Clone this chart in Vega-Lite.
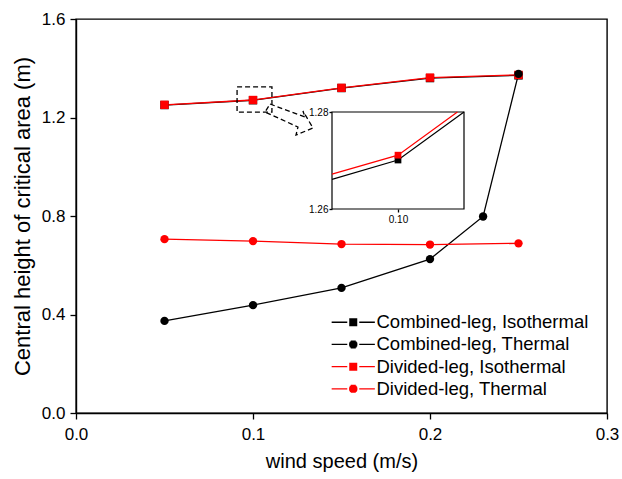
{
  "$schema": "https://vega.github.io/schema/vega-lite/v6.json",
  "width": 531,
  "height": 394,
  "autosize": "none",
  "padding": {"left": 76, "top": 19, "right": 15, "bottom": 66},
  "background": "white",
  "config": {
    "view": {"stroke": "black", "strokeWidth": 1.4},
    "font": "Liberation Sans",
    "axis": {
      "grid": false,
      "domain": true,
      "domainColor": "black",
      "domainWidth": 1.4,
      "ticks": true,
      "tickOpacity": 1,
      "labelFlush": false,
      "labelFont": "Liberation Sans",
      "titleFont": "Liberation Sans",
      "labelColor": "black",
      "titleColor": "black",
      "tickColor": "black",
      "titleFontWeight": "normal",
      "tickWidth": 1.3,
      "zindex": 1
    }
  },
  "datasets": {
    "main": [
      {"series": "Combined-leg, Isothermal", "speed": 0.05, "height": 1.2505},
      {"series": "Combined-leg, Isothermal", "speed": 0.10, "height": 1.2701},
      {"series": "Combined-leg, Isothermal", "speed": 0.15, "height": 1.3196},
      {"series": "Combined-leg, Isothermal", "speed": 0.20, "height": 1.360},
      {"series": "Combined-leg, Isothermal", "speed": 0.25, "height": 1.371},
      {"series": "Combined-leg, Thermal", "speed": 0.05, "height": 0.374},
      {"series": "Combined-leg, Thermal", "speed": 0.10, "height": 0.438},
      {"series": "Combined-leg, Thermal", "speed": 0.15, "height": 0.508},
      {"series": "Combined-leg, Thermal", "speed": 0.20, "height": 0.625},
      {"series": "Combined-leg, Thermal", "speed": 0.23, "height": 0.798},
      {"series": "Combined-leg, Thermal", "speed": 0.25, "height": 1.377},
      {"series": "Divided-leg, Isothermal", "speed": 0.05, "height": 1.2516},
      {"series": "Divided-leg, Isothermal", "speed": 0.10, "height": 1.2711},
      {"series": "Divided-leg, Isothermal", "speed": 0.15, "height": 1.3205},
      {"series": "Divided-leg, Isothermal", "speed": 0.20, "height": 1.362},
      {"series": "Divided-leg, Isothermal", "speed": 0.25, "height": 1.373},
      {"series": "Divided-leg, Thermal", "speed": 0.05, "height": 0.706},
      {"series": "Divided-leg, Thermal", "speed": 0.10, "height": 0.698},
      {"series": "Divided-leg, Thermal", "speed": 0.15, "height": 0.686},
      {"series": "Divided-leg, Thermal", "speed": 0.20, "height": 0.684},
      {"series": "Divided-leg, Thermal", "speed": 0.25, "height": 0.689}
    ],
    "inset": [
      {"series": "Combined-leg, Isothermal", "speed": 0.09, "height": 1.2661, "marker": false},
      {"series": "Combined-leg, Isothermal", "speed": 0.10, "height": 1.2701, "marker": true},
      {"series": "Combined-leg, Isothermal", "speed": 0.11, "height": 1.2800, "marker": false},
      {"series": "Divided-leg, Isothermal", "speed": 0.09, "height": 1.2672, "marker": false},
      {"series": "Divided-leg, Isothermal", "speed": 0.10, "height": 1.2711, "marker": true},
      {"series": "Divided-leg, Isothermal", "speed": 0.109, "height": 1.2800, "marker": false}
    ],
    "zoombox": [{"x1": 0.091, "x2": 0.1107, "y1": 1.222, "y2": 1.324}],
    "insetbox": [{"x1": 0.09, "x2": 0.11, "y1": 1.26, "y2": 1.28}],
    "arrow": [
      {"i": 1, "ax": 0.1096, "ay": 1.2548},
      {"i": 2, "ax": 0.1294, "ay": 1.2020},
      {"i": 3, "ax": 0.1282, "ay": 1.2264},
      {"i": 4, "ax": 0.1339, "ay": 1.1574},
      {"i": 5, "ax": 0.1243, "ay": 1.1289},
      {"i": 6, "ax": 0.1254, "ay": 1.1614},
      {"i": 7, "ax": 0.1068, "ay": 1.2223},
      {"i": 8, "ax": 0.1096, "ay": 1.2548}
    ]
  },
  "layer": [
    {
      "layer": [
        {
          "data": {"name": "main"},
          "mark": {"type": "line", "strokeWidth": 1.3},
          "encoding": {
            "x": {"field": "speed", "type": "quantitative",
              "scale": {"domain": [0, 0.3], "nice": false, "zero": false},
              "axis": {"title": "wind speed (m/s)", "values": [0, 0.1, 0.2, 0.3], "format": ".1f",
                "tickSize": 6, "ticks": true, "tickColor": "#000000", "tickWidth": 1.3, "zindex": 2,
                "labelFontSize": 17, "labelPadding": 7, "titleFontSize": 20, "titlePadding": 9}},
            "y": {"field": "height", "type": "quantitative",
              "scale": {"domain": [0, 1.6], "nice": false, "zero": false},
              "axis": {"title": "Central height of critical area (m)", "values": [0, 0.4, 0.8, 1.2, 1.6], "format": ".1f",
                "tickSize": 6, "ticks": true, "tickColor": "#000000", "tickWidth": 1.3, "zindex": 2,
                "labelFontSize": 17, "labelPadding": 5, "titleFontSize": 22, "titlePadding": 7}},
            "color": {"field": "series", "type": "nominal",
              "scale": {"domain": ["Combined-leg, Isothermal", "Combined-leg, Thermal", "Divided-leg, Isothermal", "Divided-leg, Thermal"],
                "range": ["#000000", "#000000", "#ff0000", "#ff0000"]}},
            "order": {"field": "speed"}
          }
        },
        {
          "data": {"name": "main"},
          "transform": [{"filter": "indexof(datum.series, 'Isothermal') >= 0"}],
          "mark": {"type": "point", "filled": true, "shape": "square", "size": 70, "opacity": 1},
          "encoding": {
            "x": {"field": "speed", "type": "quantitative"},
            "y": {"field": "height", "type": "quantitative"},
            "color": {"field": "series", "type": "nominal"}
          }
        },
        {
          "data": {"name": "main"},
          "transform": [{"filter": "indexof(datum.series, 'Isothermal') < 0"}],
          "mark": {"type": "point", "filled": true, "shape": "circle", "size": 70, "opacity": 1},
          "encoding": {
            "x": {"field": "speed", "type": "quantitative"},
            "y": {"field": "height", "type": "quantitative"},
            "color": {"field": "series", "type": "nominal"}
          }
        },
        {
          "data": {"name": "main"},
          "transform": [{"filter": "datum.speed < 0"}],
          "mark": {"type": "point", "filled": false, "size": 64, "strokeWidth": 1.3, "opacity": 1},
          "encoding": {
            "x": {"field": "speed", "type": "quantitative"},
            "y": {"field": "height", "type": "quantitative"},
            "color": {"field": "series", "type": "nominal",
              "legend": {
                "title": null, "orient": "none", "legendX": 268, "legendY": 294,
                "labelFontSize": 18.5, "labelColor": "black", "labelLimit": 400, "labelFont": "Liberation Sans",
                "symbolSize": 64, "symbolStrokeWidth": 1.3, "labelOffset": 14, "rowPadding": 3.2, "padding": 0
              }},
            "shape": {"field": "series", "type": "nominal",
              "scale": {"domain": ["Combined-leg, Isothermal", "Combined-leg, Thermal", "Divided-leg, Isothermal", "Divided-leg, Thermal"],
                "range": [
                  "M-5.4,0H-1.5M1.5,0H5.4M-1,-0.84H1M-1,-0.6H1M-1,-0.36H1M-1,-0.12H1M-1,0.12H1M-1,0.36H1M-1,0.6H1M-1,0.84H1",
                  "M-5.4,0H-1.5M1.5,0H5.4M-0.63,-0.84H0.63M-0.86,-0.6H0.86M-0.99,-0.36H0.99M-1.04,-0.12H1.04M-1.04,0.12H1.04M-0.99,0.36H0.99M-0.86,0.6H0.86M-0.63,0.84H0.63",
                  "M-5.4,0H-1.5M1.5,0H5.4M-1,-0.84H1M-1,-0.6H1M-1,-0.36H1M-1,-0.12H1M-1,0.12H1M-1,0.36H1M-1,0.6H1M-1,0.84H1",
                  "M-5.4,0H-1.5M1.5,0H5.4M-0.63,-0.84H0.63M-0.86,-0.6H0.86M-0.99,-0.36H0.99M-1.04,-0.12H1.04M-1.04,0.12H1.04M-0.99,0.36H0.99M-0.86,0.6H0.86M-0.63,0.84H0.63"
                ]},
              "legend": {
                "title": null, "orient": "none", "legendX": 268, "legendY": 294,
                "labelFontSize": 18.5, "labelColor": "black", "labelLimit": 400, "labelFont": "Liberation Sans",
                "symbolSize": 64, "symbolStrokeWidth": 1.3, "labelOffset": 14, "rowPadding": 3.2, "padding": 0
              }}
          }
        },
        {
          "data": {"name": "zoombox"},
          "mark": {"type": "rect", "fill": null, "fillOpacity": 0, "stroke": "black", "strokeWidth": 1.3, "strokeDash": [5, 3]},
          "encoding": {
            "x": {"field": "x1", "type": "quantitative"},
            "x2": {"field": "x2"},
            "y": {"field": "y1", "type": "quantitative"},
            "y2": {"field": "y2"}
          }
        },
        {
          "data": {"name": "arrow"},
          "mark": {"type": "line", "stroke": "black", "strokeWidth": 1.3, "strokeDash": [5, 3]},
          "encoding": {
            "x": {"field": "ax", "type": "quantitative"},
            "y": {"field": "ay", "type": "quantitative"},
            "order": {"field": "i"}
          }
        }
      ]
    },
    {
      "layer": [
        {
          "data": {"name": "insetbox"},
          "mark": {"type": "rect", "fill": "white", "stroke": "black", "strokeWidth": 1.2},
          "encoding": {
            "x": {"field": "x1", "type": "quantitative",
              "scale": {"domain": [0.09, 0.11], "range": [256, 388], "nice": false, "zero": false},
              "axis": {"orient": "bottom", "offset": -204, "values": [0.1], "format": ".2f", "title": null,
                "domain": false, "labelFontSize": 10, "tickSize": 3, "labelPadding": 2}},
            "x2": {"field": "x2"},
            "y": {"field": "y1", "type": "quantitative",
              "scale": {"domain": [1.26, 1.28], "range": [190, 93], "nice": false, "zero": false},
              "axis": {"orient": "left", "offset": -256, "values": [1.26, 1.28], "format": ".2f", "title": null,
                "domain": false, "labelFontSize": 10, "tickSize": 3, "labelPadding": 1}},
            "y2": {"field": "y2"}
          }
        },
        {
          "data": {"name": "inset"},
          "mark": {"type": "line", "strokeWidth": 1.2},
          "encoding": {
            "x": {"field": "speed", "type": "quantitative"},
            "y": {"field": "height", "type": "quantitative"},
            "color": {"field": "series", "type": "nominal"},
            "order": {"field": "speed"}
          }
        },
        {
          "data": {"name": "inset"},
          "transform": [{"filter": "datum.marker"}],
          "mark": {"type": "point", "filled": true, "shape": "square", "size": 45, "opacity": 1},
          "encoding": {
            "x": {"field": "speed", "type": "quantitative"},
            "y": {"field": "height", "type": "quantitative"},
            "color": {"field": "series", "type": "nominal"}
          }
        }
      ]
    }
  ],
  "resolve": {
    "scale": {"x": "independent", "y": "independent"},
    "axis": {"x": "independent", "y": "independent"}
  }
}
